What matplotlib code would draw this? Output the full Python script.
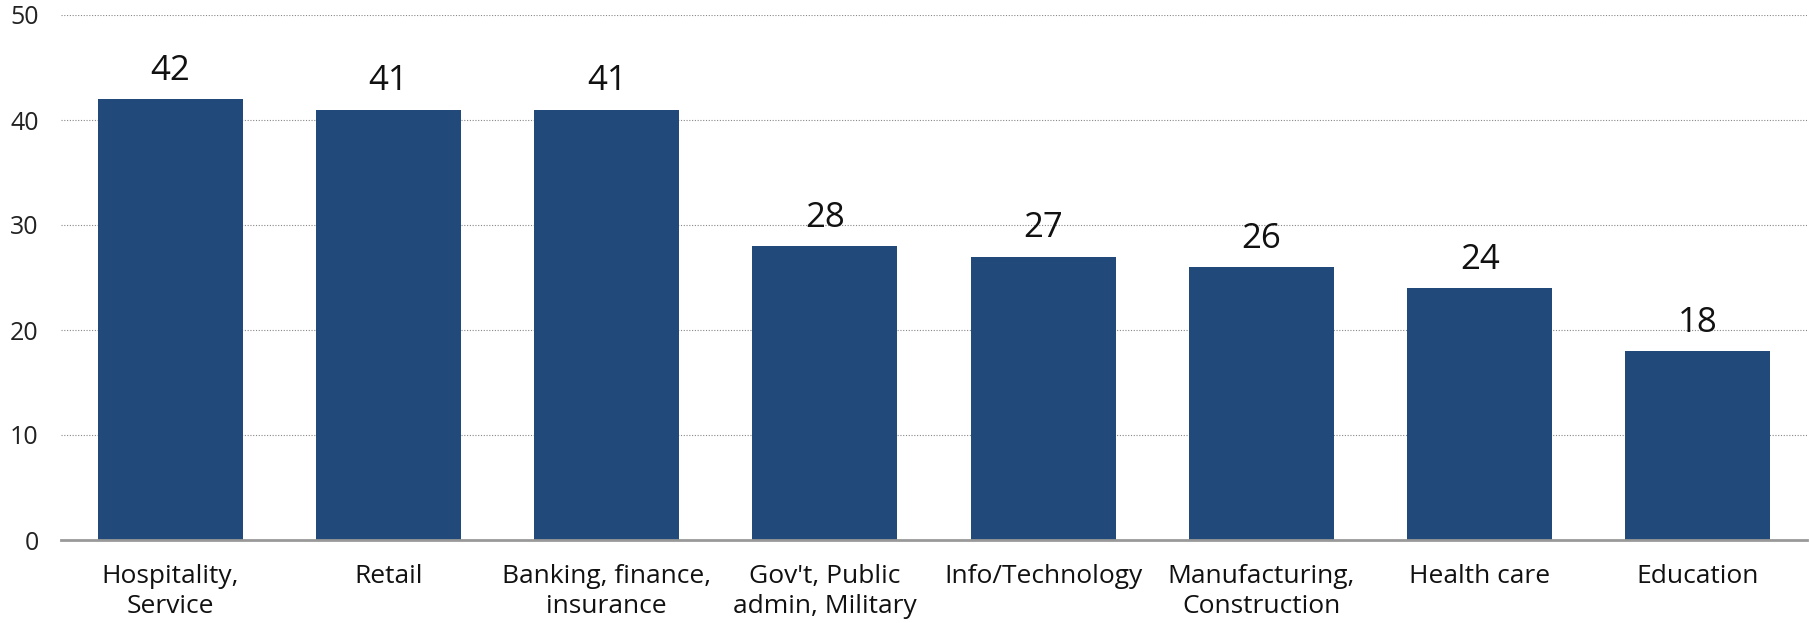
import matplotlib
matplotlib.use("Agg")
import matplotlib.pyplot as plt

categories = ["Hospitality,\nService", "Retail", "Banking, finance,\ninsurance",
              "Gov't, Public\nadmin, Military", "Info/Technology",
              "Manufacturing,\nConstruction", "Health care", "Education"]
values = [42, 41, 41, 28, 27, 26, 24, 18]
yticks = [0, 10, 20, 30, 40, 50]

plt.rcParams['font.family'] = ['Open Sans', 'DejaVu Sans']

fig = plt.figure(figsize=(18.10, 6.23), dpi=100)
ax = fig.add_axes([61/1810, 1-540/623, (1807-61)/1810, (540-15)/623])

x = list(range(len(categories)))
bars = ax.bar(x, values, width=0.665, color="#21497A", zorder=3)
for xi, v in zip(x, values):
    ax.annotate(str(v), (xi, v), xytext=(0, 8), textcoords="offset points",
                ha="center", va="bottom", fontsize=25, color="#111111")

ax.set_xlim(-0.5, len(categories) - 0.5)
ax.set_ylim(0, 50)
ax.set_yticks(yticks)
ax.set_yticklabels([str(t) for t in yticks], fontsize=18, color="#222222")
ax.set_xticks(x)
ax.set_xticklabels(categories, fontsize=19, color="#111111", linespacing=1.3)
ax.tick_params(axis="y", length=0, pad=16)
ax.tick_params(axis="x", length=0, pad=17)
ax.yaxis.grid(True, linestyle=(0, (1, 1.5)), color="#888888", linewidth=0.8, zorder=0)
for s in ["left", "right", "top"]:
    ax.spines[s].set_visible(False)
ax.spines["bottom"].set_color("#999999")
ax.spines["bottom"].set_linewidth(2)
ax.spines["bottom"].set_zorder(4)

fig.savefig("out.png", dpi=100)
